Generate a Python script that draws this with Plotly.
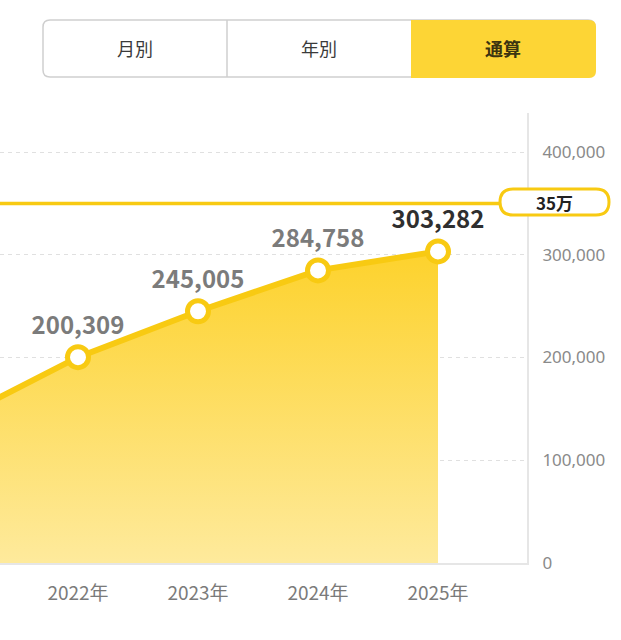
import plotly.graph_objects as go

# cumulative totals per year (2021 value is mostly scrolled off the left edge)
years = [2021, 2022, 2023, 2024, 2025]
totals = [140627, 200309, 245005, 284758, 303282]
year_labels = ["2021年", "2022年", "2023年", "2024年", "2025年"]
target = 350000
target_label = "35万"
tabs = ["月別", "年別", "通算"]
y_ticks = [0, 100000, 200000, 300000, 400000]

W, H = 621, 640
PX0, PX1 = 0, 527      # plot area in page pixels
PY0, PY1 = 113, 563

YELLOW = "#F8CA12"
TAB_YELLOW = "#FDD535"
FONT = "Noto Sans CJK JP"


def px(x):
    return (x - PX0) / (PX1 - PX0)


def py(y):
    return (PY1 - y) / (PY1 - PY0)


def rounded(x0, y0, x1, y1, r, corners="tl tr br bl"):
    c = corners.split()
    p = []
    p.append(f"M{px(x0 + (r if 'tl' in c else 0))},{py(y0)}")
    if "tr" in c:
        p.append(f"L{px(x1 - r)},{py(y0)} Q{px(x1)},{py(y0)} {px(x1)},{py(y0 + r)}")
    else:
        p.append(f"L{px(x1)},{py(y0)}")
    if "br" in c:
        p.append(f"L{px(x1)},{py(y1 - r)} Q{px(x1)},{py(y1)} {px(x1 - r)},{py(y1)}")
    else:
        p.append(f"L{px(x1)},{py(y1)}")
    if "bl" in c:
        p.append(f"L{px(x0 + r)},{py(y1)} Q{px(x0)},{py(y1)} {px(x0)},{py(y1 - r)}")
    else:
        p.append(f"L{px(x0)},{py(y1)}")
    if "tl" in c:
        p.append(f"L{px(x0)},{py(y0 + r)} Q{px(x0)},{py(y0)} {px(x0 + r)},{py(y0)}")
    else:
        p.append(f"L{px(x0)},{py(y0)}")
    return " ".join(p) + " Z"


def page_text(x, y, text, size, color, weight=400):
    fig.add_annotation(x=px(x), y=py(y), xref="paper", yref="paper",
                       xanchor="center", yanchor="middle",
                       text=text, showarrow=False,
                       font=dict(family=FONT, size=size, color=color, weight=weight))


fig = go.Figure()

fig.add_trace(go.Scatter(
    x=years, y=totals,
    mode="lines+markers",
    line=dict(color=YELLOW, width=6),
    marker=dict(size=21, color="white", line=dict(color=YELLOW, width=5)),
    fill="tozeroy",
    fillgradient=dict(
        type="vertical",
        colorscale=[[0, "#FEEA9C"], [1, "#FDD22C"]],
    ),
    hoverinfo="skip",
    showlegend=False,
))

# value labels above each point (not clipped, so the scrolled-off 2021 label peeks in)
label_colors = ["#7b7b7b"] * (len(years) - 1) + ["#2f2f2f"]
fig.add_trace(go.Scatter(
    x=years, y=totals,
    mode="markers+text",
    text=[f"{v:,}" for v in totals],
    textposition="top center",
    textfont=dict(family=FONT, size=24, color=label_colors, weight=700),
    marker=dict(size=26, opacity=0),
    cliponaxis=False,
    hoverinfo="skip",
    showlegend=False,
))

shapes = []
# target line
shapes.append(dict(type="line", xref="paper", yref="y",
                   x0=px(0), x1=px(502), y0=target, y1=target,
                   line=dict(color=YELLOW, width=3.5), layer="above"))
shapes.append(dict(type="path", xref="paper", yref="paper",
                   path=rounded(500, 189, 609, 215, 13),
                   fillcolor="white", line=dict(color=YELLOW, width=3), layer="above"))
page_text(554, 202, target_label, 17, "#222", 700)

# tab bar
shapes.append(dict(type="path", xref="paper", yref="paper",
                   path=rounded(43, 20, 595, 77, 7),
                   fillcolor="white", line=dict(color="#cfcfcf", width=1.5), layer="above"))
shapes.append(dict(type="path", xref="paper", yref="paper",
                   path=rounded(411, 20, 596, 78, 7, "tr br"),
                   fillcolor=TAB_YELLOW, line=dict(width=0), layer="above"))
shapes.append(dict(type="line", xref="paper", yref="paper",
                   x0=px(227), x1=px(227), y0=py(20), y1=py(77),
                   line=dict(color="#cfcfcf", width=1.5), layer="above"))
tab_centers = [135, 319, 503]
for name, cx, sel in zip(tabs, tab_centers, [False, False, True]):
    page_text(cx, 48, name, 18, "#3b3410" if sel else "#3a3a3a", 700 if sel else 400)

fig.update_layout(
    width=W, height=H,
    margin=dict(l=PX0, r=W - PX1, t=PY0, b=H - PY1, pad=0),
    paper_bgcolor="white", plot_bgcolor="white",
    shapes=shapes,
    font=dict(family=FONT),
)
fig.update_xaxes(
    range=[2022 - 78 / 120, 2022 + (527 - 78) / 120],
    tickvals=years, ticktext=year_labels,
    showgrid=False, zeroline=False,
    showline=True, linecolor="#e6e6e6", linewidth=2,
    ticks="", ticklabelstandoff=12,
    tickfont=dict(family=FONT, size=19, color="#7a7a7a"),
)
fig.update_yaxes(
    range=[0, (PY1 - PY0) / 102.75 * 100000],
    side="right", tickvals=y_ticks,
    tickformat=",d",
    showgrid=True, gridcolor="#e0e0e0", griddash="4px,4px", gridwidth=1,
    zeroline=False,
    showline=True, linecolor="#e6e6e6", linewidth=2,
    ticks="", ticklabelstandoff=10,
    tickfont=dict(family="Noto Sans", size=17, color="#8a8a8a"),
)

# drop the browser's default body margin so the chart sits flush with the window
fig.write_html("out.html", config={"displayModeBar": False},
               post_script="document.body.style.margin='0';")
